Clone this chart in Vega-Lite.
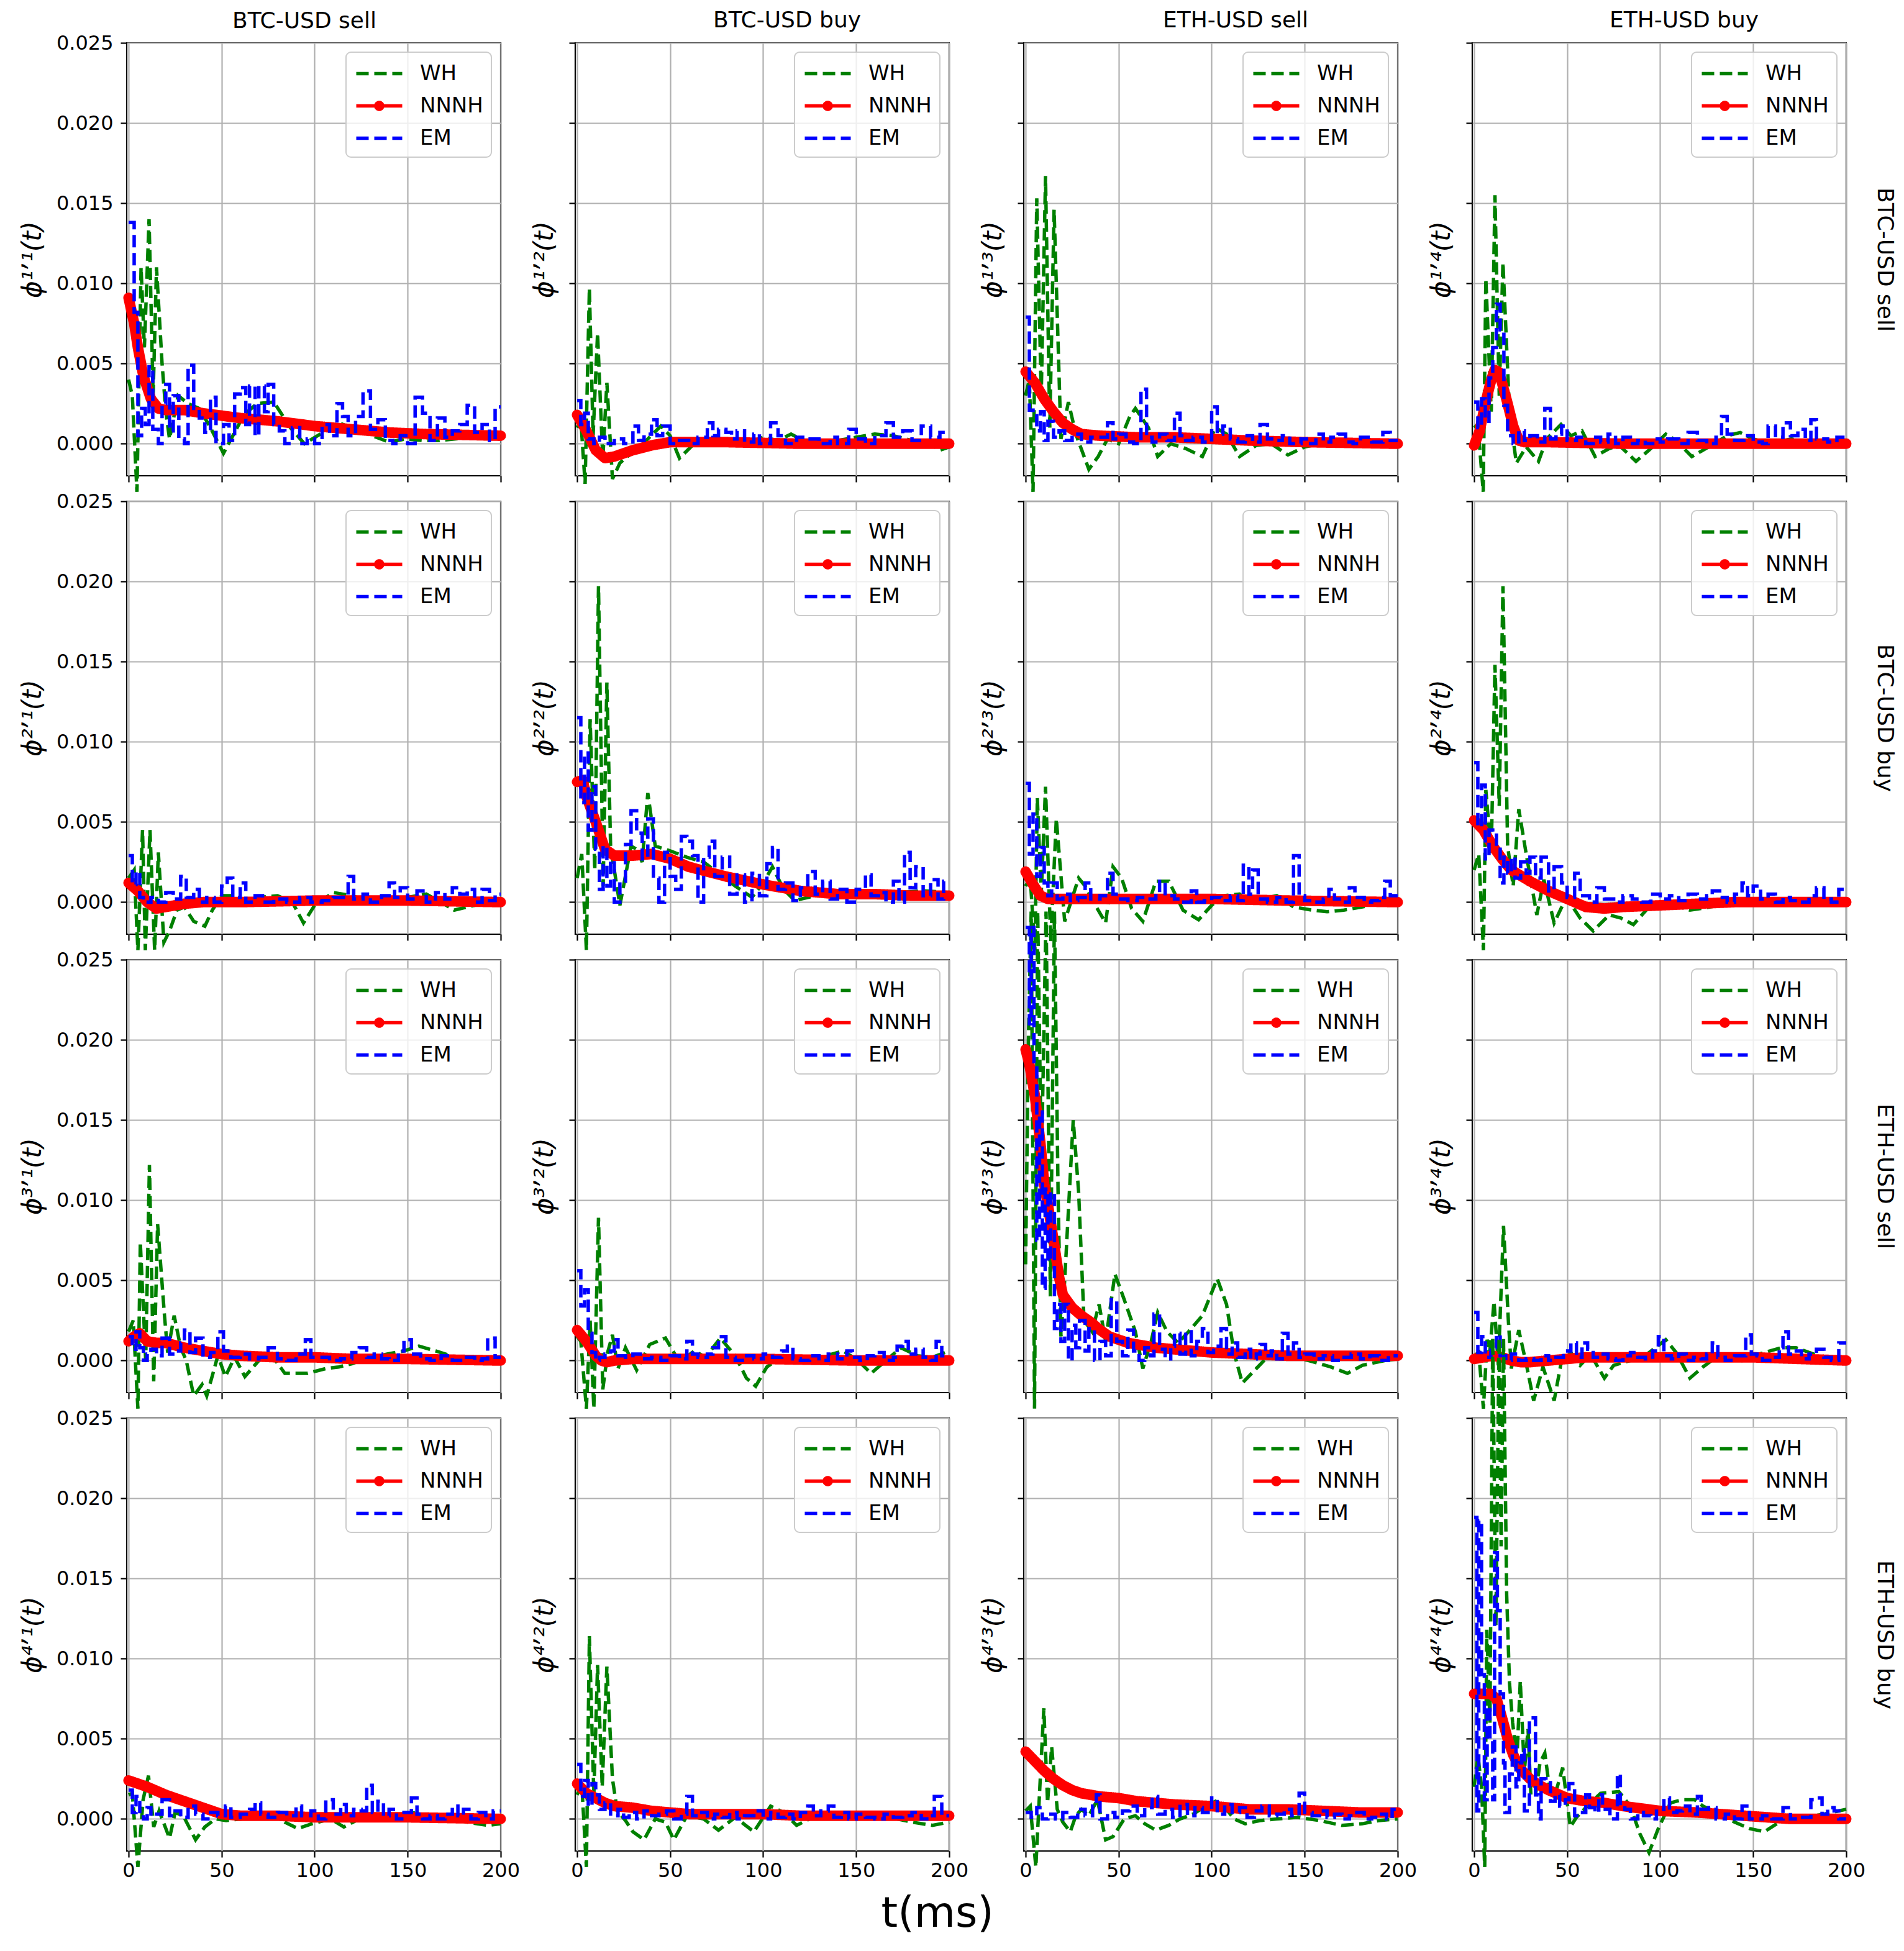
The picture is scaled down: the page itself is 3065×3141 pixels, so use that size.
{
"$schema":"https://vega.github.io/schema/vega-lite/v6.json",
"padding":{"left":30,"top":13,"right":10,"bottom":10},
"background":"white",
"title":{"text":"t(ms)","orient":"bottom","anchor":"middle","fontSize":68,"offset":20,"dx":-32},
"datasets":{
"a11":[{"t":0,"v":0.004},{"t":2,"v":0.003},{"t":4.5,"v":-0.003},{"t":6.7,"v":0.011},{"t":8.5,"v":0.006},{"t":11,"v":0.014},{"t":13.2,"v":0.003},{"t":15,"v":0.011},{"t":18,"v":0.005},{"t":20,"v":0.002},{"t":22,"v":0.0003},{"t":26.6,"v":0.003},{"t":32,"v":0.0025},{"t":38,"v":0.0022},{"t":44,"v":0.001},{"t":51,"v":-0.0006},{"t":56.5,"v":0.0006},{"t":62,"v":0.0018},{"t":69,"v":0.0025},{"t":78,"v":0.0026},{"t":87,"v":0.001},{"t":94.5,"v":0},{"t":103,"v":0.0006},{"t":113,"v":0.0013},{"t":122,"v":0.0009},{"t":131,"v":0.0005},{"t":140,"v":0.0001},{"t":149,"v":0.0003},{"t":158,"v":0.0002},{"t":167,"v":0.0002},{"t":176,"v":0.0003},{"t":185,"v":0.0004},{"t":193,"v":0.0005},{"t":200,"v":0.0006}],
"a12":[{"t":0,"v":0.001},{"t":2,"v":0.0015},{"t":4.3,"v":-0.0025},{"t":6.6,"v":0.0097},{"t":8.6,"v":0.0005},{"t":11,"v":0.0069},{"t":13.8,"v":-0.001},{"t":16,"v":0.0038},{"t":19,"v":-0.0022},{"t":23,"v":-0.0012},{"t":27,"v":-0.0008},{"t":31,"v":-0.0005},{"t":38,"v":0.0003},{"t":45,"v":0.0011},{"t":50,"v":0.0005},{"t":55,"v":-0.0009},{"t":62,"v":-0.0001},{"t":70,"v":0.0003},{"t":80,"v":0.0001},{"t":90,"v":0},{"t":100,"v":0.0004},{"t":108,"v":0.0002},{"t":115,"v":0.0006},{"t":125,"v":0},{"t":140,"v":0.0002},{"t":150,"v":0.0004},{"t":160,"v":0.0006},{"t":170,"v":0.0005},{"t":180,"v":0.0002},{"t":190,"v":0},{"t":195,"v":-0.0004},{"t":200,"v":-0.0002}],
"a13":[{"t":0,"v":0.003},{"t":2,"v":0.004},{"t":4,"v":-0.003},{"t":6,"v":0.0153},{"t":8.4,"v":0.003},{"t":10.7,"v":0.0167},{"t":13,"v":0.001},{"t":15.3,"v":0.0146},{"t":19,"v":0.0003},{"t":23,"v":0.0026},{"t":27,"v":0.0006},{"t":34,"v":-0.0016},{"t":39,"v":-0.0008},{"t":44,"v":0.0003},{"t":50,"v":0},{"t":56,"v":0.0017},{"t":59,"v":0.0022},{"t":66,"v":0.001},{"t":71,"v":-0.0008},{"t":78,"v":0},{"t":86,"v":-0.0003},{"t":95,"v":-0.0008},{"t":102,"v":0.001},{"t":108,"v":0.0006},{"t":115,"v":-0.0008},{"t":124,"v":-0.0001},{"t":132,"v":0},{"t":141,"v":-0.0007},{"t":150,"v":-0.0002},{"t":158,"v":0},{"t":170,"v":0.0002},{"t":184,"v":0.0001},{"t":200,"v":0}],
"a14":[{"t":0,"v":0.001},{"t":2,"v":0.0012},{"t":4.9,"v":-0.003},{"t":6.3,"v":0.0103},{"t":9.2,"v":0.002},{"t":11.2,"v":0.0155},{"t":13.5,"v":0.003},{"t":15.5,"v":0.0113},{"t":19,"v":0.002},{"t":22.7,"v":-0.0012},{"t":28,"v":-0.0002},{"t":34.6,"v":-0.0011},{"t":39,"v":0.0003},{"t":46.7,"v":0.0012},{"t":52,"v":0.0005},{"t":58,"v":0.0008},{"t":65,"v":-0.0008},{"t":72.6,"v":-0.0003},{"t":78,"v":-0.0001},{"t":87,"v":-0.0011},{"t":94,"v":-0.0004},{"t":103,"v":0.0006},{"t":108.6,"v":0.0002},{"t":117,"v":-0.0008},{"t":126,"v":-0.0002},{"t":136,"v":0.0005},{"t":143,"v":0.0007},{"t":150,"v":0.0003},{"t":159,"v":0},{"t":170.6,"v":0.0003},{"t":182,"v":0},{"t":200,"v":0.0001}],
"a21":[{"t":0,"v":0.0015},{"t":3,"v":0.002},{"t":5,"v":-0.003},{"t":7.5,"v":0.0045},{"t":9,"v":-0.003},{"t":11.5,"v":0.0045},{"t":14,"v":-0.003},{"t":16,"v":0.0031},{"t":19,"v":-0.0025},{"t":22,"v":-0.0018},{"t":26,"v":-0.0005},{"t":30,"v":-0.0003},{"t":35,"v":-0.0012},{"t":41,"v":-0.0015},{"t":45,"v":-0.0005},{"t":50,"v":0.0004},{"t":55,"v":0.0004},{"t":60,"v":0},{"t":70,"v":0.0003},{"t":80,"v":0.0004},{"t":88,"v":0},{"t":94,"v":-0.0013},{"t":100,"v":-0.0002},{"t":110,"v":0.0006},{"t":120,"v":0.0004},{"t":130,"v":0},{"t":140,"v":0},{"t":150,"v":0.0003},{"t":160,"v":0.0005},{"t":168,"v":0},{"t":175,"v":-0.0005},{"t":182,"v":-0.0003},{"t":190,"v":-0.0001},{"t":200,"v":0}],
"a22":[{"t":0,"v":0.0015},{"t":2.5,"v":0.003},{"t":5,"v":-0.003},{"t":7,"v":0.0114},{"t":9.5,"v":0.002},{"t":11.5,"v":0.0197},{"t":14,"v":0.001},{"t":16,"v":0.0137},{"t":18,"v":0.0035},{"t":20,"v":0.002},{"t":23,"v":-0.0002},{"t":29,"v":0.0035},{"t":32,"v":0.0033},{"t":35,"v":0.0025},{"t":38,"v":0.0068},{"t":42,"v":0.0035},{"t":50,"v":0.0032},{"t":59,"v":0.0028},{"t":68,"v":0.0025},{"t":76,"v":0.0018},{"t":85,"v":0.001},{"t":94,"v":0.0003},{"t":100,"v":0.0012},{"t":105,"v":0.0022},{"t":111,"v":0.0008},{"t":117,"v":0.0001},{"t":128,"v":0.0004},{"t":140,"v":0.0006},{"t":151,"v":0.0005},{"t":163,"v":0.0005},{"t":174,"v":0.0006},{"t":186,"v":0.0007},{"t":200,"v":0.0006}],
"a23":[{"t":0,"v":0.001},{"t":2.5,"v":0.0015},{"t":5,"v":-0.003},{"t":6.3,"v":0.0065},{"t":8.4,"v":0.0005},{"t":10.7,"v":0.0072},{"t":13.5,"v":-0.0025},{"t":16.5,"v":0.0052},{"t":21,"v":-0.0012},{"t":28.5,"v":0.0015},{"t":32,"v":0.001},{"t":37,"v":-0.0001},{"t":43,"v":-0.0013},{"t":47,"v":0.0022},{"t":51.6,"v":0.0015},{"t":57,"v":-0.0004},{"t":63,"v":-0.0012},{"t":70,"v":0.0013},{"t":77,"v":0.0013},{"t":84.6,"v":-0.0005},{"t":93,"v":-0.0011},{"t":100,"v":-0.0002},{"t":106,"v":0.0004},{"t":115,"v":0.0005},{"t":120,"v":0},{"t":135,"v":0.0004},{"t":144,"v":-0.0003},{"t":154,"v":-0.0005},{"t":162,"v":-0.0006},{"t":171,"v":-0.0005},{"t":181,"v":-0.0003},{"t":193,"v":0},{"t":200,"v":0.0003}],
"a24":[{"t":0,"v":0.002},{"t":2.5,"v":0.003},{"t":5,"v":-0.003},{"t":6.3,"v":0.007},{"t":9.2,"v":0.003},{"t":11.2,"v":0.0148},{"t":13.5,"v":0.006},{"t":15.5,"v":0.0197},{"t":18,"v":0.0035},{"t":21,"v":0.001},{"t":24,"v":0.0058},{"t":28,"v":0.003},{"t":33.7,"v":-0.0008},{"t":37.5,"v":0.0014},{"t":43,"v":-0.0013},{"t":49.6,"v":0.0003},{"t":57,"v":-0.001},{"t":64,"v":-0.0018},{"t":72.6,"v":-0.0008},{"t":79,"v":-0.001},{"t":85.6,"v":-0.0014},{"t":94,"v":-0.0003},{"t":101,"v":0},{"t":108,"v":-0.0002},{"t":116,"v":-0.0005},{"t":127,"v":-0.0003},{"t":139,"v":0},{"t":150,"v":0.0002},{"t":165,"v":0.0001},{"t":182,"v":0.0002},{"t":200,"v":0.0001}],
"a31":[{"t":0,"v":0.0018},{"t":2.5,"v":0.0025},{"t":5,"v":-0.003},{"t":6.3,"v":0.0074},{"t":9.2,"v":0},{"t":11.2,"v":0.0122},{"t":13.5,"v":-0.0013},{"t":15.6,"v":0.0085},{"t":19.3,"v":0.0028},{"t":21,"v":0.0005},{"t":24.5,"v":0.0028},{"t":28,"v":0.0008},{"t":31,"v":0},{"t":35,"v":-0.0022},{"t":39.5,"v":-0.0015},{"t":42,"v":-0.0022},{"t":48,"v":0.0003},{"t":52,"v":-0.001},{"t":57,"v":0.0002},{"t":62.5,"v":-0.001},{"t":70,"v":0},{"t":77,"v":0.0003},{"t":84,"v":-0.0008},{"t":96,"v":-0.0008},{"t":106,"v":-0.0005},{"t":113,"v":-0.0004},{"t":120,"v":-0.0002},{"t":127,"v":0.0001},{"t":139,"v":0.0004},{"t":148,"v":0.0006},{"t":156,"v":0.0009},{"t":165,"v":0.0006},{"t":173,"v":0.0003},{"t":185,"v":0},{"t":200,"v":0}],
"a32":[{"t":0,"v":0.0015},{"t":2,"v":0.0012},{"t":5,"v":-0.003},{"t":7,"v":0.0025},{"t":9,"v":-0.003},{"t":11.5,"v":0.0089},{"t":13.8,"v":-0.0018},{"t":16.4,"v":0.0005},{"t":19,"v":0.0016},{"t":22,"v":-0.0005},{"t":26,"v":0.0008},{"t":32,"v":-0.0006},{"t":39,"v":0.001},{"t":47.5,"v":0.0014},{"t":55,"v":-0.0001},{"t":63,"v":0.0006},{"t":69,"v":0.0002},{"t":77,"v":0.0014},{"t":85,"v":0.0003},{"t":91,"v":-0.0011},{"t":96,"v":-0.0016},{"t":102,"v":-0.0004},{"t":111,"v":0.0003},{"t":122,"v":0},{"t":131,"v":0.0002},{"t":143,"v":0.0006},{"t":151,"v":0},{"t":158,"v":-0.0008},{"t":166,"v":0},{"t":174,"v":0.0008},{"t":183,"v":0.0003},{"t":191,"v":0.0002},{"t":200,"v":0.0006}],
"a33":[{"t":0,"v":0.006},{"t":1.5,"v":0.02},{"t":3,"v":0.028},{"t":4.8,"v":-0.003},{"t":6.5,"v":0.028},{"t":8.5,"v":0.012},{"t":11,"v":0.028},{"t":13.3,"v":0.004},{"t":15.5,"v":0.028},{"t":17.5,"v":0.01},{"t":19,"v":0.0015},{"t":21,"v":0.005},{"t":25.6,"v":0.015},{"t":28.5,"v":0.0105},{"t":31.4,"v":0.0025},{"t":35.7,"v":0.0018},{"t":39.5,"v":0.0035},{"t":43,"v":0.0012},{"t":48,"v":0.0054},{"t":53,"v":0.0038},{"t":59,"v":0.0018},{"t":63,"v":-0.0005},{"t":67.5,"v":0.0012},{"t":71,"v":0.003},{"t":76,"v":0.0018},{"t":82,"v":0.0011},{"t":87.6,"v":0.0018},{"t":95,"v":0.0028},{"t":103,"v":0.0051},{"t":108,"v":0.0035},{"t":112,"v":0.0005},{"t":116.5,"v":-0.0014},{"t":124,"v":-0.0005},{"t":129,"v":0.0001},{"t":141,"v":0.0003},{"t":152,"v":0},{"t":164,"v":-0.0004},{"t":173,"v":-0.0008},{"t":181,"v":-0.0003},{"t":193,"v":0},{"t":200,"v":0.0001}],
"a34":[{"t":0,"v":0.0003},{"t":2.5,"v":0.0005},{"t":5,"v":-0.003},{"t":7,"v":0.0013},{"t":8.4,"v":0.0005},{"t":10.7,"v":0.0037},{"t":13,"v":-0.0003},{"t":15.8,"v":0.0084},{"t":18.4,"v":0.0025},{"t":20,"v":-0.0005},{"t":24,"v":0.0019},{"t":28,"v":-0.0002},{"t":32,"v":-0.0025},{"t":37,"v":-0.0004},{"t":43,"v":-0.0025},{"t":47,"v":0},{"t":52,"v":0.0005},{"t":57,"v":-0.0003},{"t":62.5,"v":0.0004},{"t":70,"v":-0.0011},{"t":75,"v":-0.0003},{"t":84,"v":0},{"t":93,"v":0.0004},{"t":103,"v":0.0013},{"t":108.6,"v":0.0005},{"t":116,"v":-0.0011},{"t":123,"v":-0.0004},{"t":130,"v":0.0002},{"t":140,"v":0.0003},{"t":144,"v":0},{"t":153,"v":0.0004},{"t":165,"v":0.0008},{"t":173,"v":0.0008},{"t":185,"v":0.0003},{"t":193,"v":0},{"t":200,"v":0}],
"a41":[{"t":0,"v":0.0015},{"t":2,"v":0.0016},{"t":5,"v":-0.003},{"t":7.8,"v":0.0012},{"t":10.7,"v":0.0027},{"t":13.5,"v":-0.0005},{"t":16.4,"v":0.0005},{"t":22,"v":-0.0012},{"t":25,"v":0.0004},{"t":29.4,"v":0.0002},{"t":36,"v":-0.0013},{"t":41,"v":-0.0005},{"t":46.7,"v":0},{"t":52.4,"v":-0.0001},{"t":61,"v":0},{"t":69.7,"v":0.0004},{"t":78,"v":0.0003},{"t":84,"v":-0.0002},{"t":91,"v":-0.0006},{"t":98.6,"v":-0.0003},{"t":108.6,"v":0},{"t":115.7,"v":-0.0005},{"t":124,"v":0},{"t":133,"v":0.0003},{"t":141.8,"v":0.0002},{"t":152,"v":0.0004},{"t":162,"v":0.0002},{"t":173,"v":0},{"t":182,"v":-0.0002},{"t":193,"v":-0.0004},{"t":200,"v":-0.0003}],
"a42":[{"t":0,"v":0.0015},{"t":2.5,"v":0.0022},{"t":5,"v":-0.003},{"t":6.6,"v":0.0114},{"t":9,"v":0.0015},{"t":11,"v":0.0096},{"t":13.5,"v":0.002},{"t":16,"v":0.0095},{"t":19,"v":0.0025},{"t":21.6,"v":0.0005},{"t":26,"v":-0.0001},{"t":30,"v":-0.0008},{"t":36,"v":-0.0013},{"t":42,"v":0},{"t":47.5,"v":-0.0002},{"t":52,"v":-0.0013},{"t":59,"v":0.0002},{"t":68,"v":0},{"t":76,"v":-0.0007},{"t":85,"v":0.0001},{"t":95,"v":-0.0008},{"t":104,"v":0.0008},{"t":111,"v":0.0004},{"t":118,"v":-0.0004},{"t":125,"v":0},{"t":134,"v":0.0003},{"t":143,"v":0.0002},{"t":151,"v":0.0002},{"t":160,"v":0},{"t":168,"v":0.0001},{"t":180,"v":-0.0002},{"t":191,"v":-0.0004},{"t":200,"v":-0.0002}],
"a43":[{"t":0,"v":0.0005},{"t":2.5,"v":0.0008},{"t":5.5,"v":-0.003},{"t":8,"v":0.0028},{"t":9.8,"v":0.0069},{"t":11.8,"v":0.001},{"t":14,"v":0.0045},{"t":17,"v":0.0006},{"t":20,"v":-0.0002},{"t":24,"v":-0.0008},{"t":27,"v":0.0002},{"t":30,"v":0.0006},{"t":34,"v":0.0002},{"t":38.6,"v":0.0012},{"t":43,"v":-0.0013},{"t":47,"v":-0.0011},{"t":53,"v":0},{"t":59,"v":0.0002},{"t":64,"v":-0.0003},{"t":70,"v":-0.0007},{"t":77,"v":-0.0004},{"t":83,"v":0},{"t":90,"v":0.0003},{"t":97,"v":0.0008},{"t":102,"v":0.0011},{"t":108,"v":0.0006},{"t":112,"v":0},{"t":118,"v":-0.0003},{"t":126,"v":-0.0001},{"t":135,"v":0},{"t":146,"v":0.0001},{"t":158,"v":-0.0001},{"t":170,"v":-0.0004},{"t":181,"v":-0.0003},{"t":190,"v":-0.0001},{"t":200,"v":0}],
"a44":[{"t":0,"v":0.002},{"t":2,"v":0.004},{"t":4,"v":0.002},{"t":5.7,"v":-0.003},{"t":6.8,"v":0.0118},{"t":8.5,"v":0.006},{"t":10,"v":0.03},{"t":11.7,"v":0.012},{"t":13.4,"v":0.03},{"t":14.5,"v":0.017},{"t":15.8,"v":0.03},{"t":17.5,"v":0.014},{"t":19,"v":0.0085},{"t":20.7,"v":0.006},{"t":23,"v":0.0037},{"t":24.8,"v":0.0086},{"t":27,"v":0.003},{"t":29,"v":0.0056},{"t":30.5,"v":0.0015},{"t":33,"v":0.0015},{"t":35.4,"v":0.0035},{"t":38,"v":0.0041},{"t":41,"v":0.0015},{"t":43.5,"v":0.0015},{"t":47.6,"v":0.0032},{"t":51.7,"v":-0.0005},{"t":55,"v":0.0001},{"t":60,"v":0.0007},{"t":68,"v":0.0016},{"t":77.8,"v":0.0017},{"t":84,"v":0.0008},{"t":89,"v":-0.0009},{"t":94,"v":-0.0021},{"t":99,"v":-0.0006},{"t":105.5,"v":0.001},{"t":112,"v":0.0012},{"t":118.5,"v":0.0012},{"t":123,"v":0.0008},{"t":130,"v":0.0004},{"t":140,"v":-0.0002},{"t":148,"v":-0.0006},{"t":156,"v":-0.0008},{"t":164,"v":-0.0002},{"t":172,"v":0},{"t":188,"v":0.0003},{"t":200,"v":0.0006}],
"n11":[{"t":0,"v":0.0091},{"t":3,"v":0.0075},{"t":5,"v":0.006},{"t":8,"v":0.0042},{"t":12,"v":0.0028},{"t":16,"v":0.0022},{"t":20,"v":0.0021},{"t":30,"v":0.0021},{"t":40,"v":0.0019},{"t":60,"v":0.0016},{"t":80,"v":0.0014},{"t":100,"v":0.0011},{"t":120,"v":0.0009},{"t":140,"v":0.0007},{"t":160,"v":0.0006},{"t":200,"v":0.0005}],
"n12":[{"t":0,"v":0.0018},{"t":5,"v":0.0008},{"t":10,"v":-0.0004},{"t":15,"v":-0.0009},{"t":20,"v":-0.0008},{"t":30,"v":-0.0004},{"t":40,"v":-0.0001},{"t":50,"v":0.0001},{"t":80,"v":0.0001},{"t":120,"v":0},{"t":160,"v":0},{"t":200,"v":0}],
"n13":[{"t":0,"v":0.0045},{"t":5,"v":0.0038},{"t":10,"v":0.0028},{"t":15,"v":0.002},{"t":20,"v":0.0013},{"t":25,"v":0.0009},{"t":30,"v":0.0006},{"t":40,"v":0.0005},{"t":60,"v":0.0004},{"t":80,"v":0.0004},{"t":100,"v":0.0003},{"t":120,"v":0.0002},{"t":150,"v":0.0001},{"t":200,"v":0}],
"n14":[{"t":0,"v":-0.0001},{"t":3,"v":0.0008},{"t":6,"v":0.0025},{"t":9,"v":0.0039},{"t":11,"v":0.0046},{"t":13,"v":0.0045},{"t":15,"v":0.0038},{"t":18,"v":0.0025},{"t":21,"v":0.0011},{"t":24,"v":0.0002},{"t":27,"v":0.0001},{"t":40,"v":0.0001},{"t":80,"v":0},{"t":200,"v":0}],
"n21":[{"t":0,"v":0.0012},{"t":5,"v":0.0007},{"t":10,"v":0},{"t":15,"v":-0.0004},{"t":20,"v":-0.0003},{"t":30,"v":-0.0001},{"t":40,"v":0},{"t":60,"v":0},{"t":100,"v":0.0001},{"t":150,"v":0.0001},{"t":200,"v":0}],
"n22":[{"t":0,"v":0.0075},{"t":3,"v":0.0076},{"t":5,"v":0.0066},{"t":10,"v":0.005},{"t":15,"v":0.0033},{"t":20,"v":0.0029},{"t":30,"v":0.0029},{"t":40,"v":0.003},{"t":50,"v":0.0027},{"t":60,"v":0.0022},{"t":80,"v":0.0016},{"t":100,"v":0.0011},{"t":120,"v":0.0007},{"t":140,"v":0.0005},{"t":160,"v":0.0005},{"t":180,"v":0.0004},{"t":200,"v":0.0004}],
"n23":[{"t":0,"v":0.0019},{"t":4,"v":0.0011},{"t":8,"v":0.0004},{"t":12,"v":0.0002},{"t":40,"v":0.0002},{"t":100,"v":0.0002},{"t":140,"v":0.0001},{"t":200,"v":0}],
"n24":[{"t":0,"v":0.0051},{"t":5,"v":0.0045},{"t":10,"v":0.0035},{"t":15,"v":0.0027},{"t":20,"v":0.002},{"t":30,"v":0.0013},{"t":40,"v":0.0007},{"t":50,"v":0.0002},{"t":60,"v":-0.0003},{"t":70,"v":-0.0004},{"t":80,"v":-0.0003},{"t":100,"v":-0.0002},{"t":120,"v":-0.0001},{"t":140,"v":0},{"t":200,"v":0}],
"n31":[{"t":0,"v":0.0012},{"t":3,"v":0.0015},{"t":6,"v":0.0017},{"t":10,"v":0.0012},{"t":15,"v":0.0011},{"t":20,"v":0.0011},{"t":30,"v":0.0008},{"t":40,"v":0.0006},{"t":50,"v":0.0004},{"t":60,"v":0.0003},{"t":80,"v":0.0002},{"t":100,"v":0.0002},{"t":120,"v":0.0001},{"t":150,"v":0.0001},{"t":200,"v":0}],
"n32":[{"t":0,"v":0.0019},{"t":5,"v":0.0012},{"t":10,"v":0.0003},{"t":13,"v":0},{"t":16,"v":-0.0001},{"t":20,"v":0},{"t":30,"v":0.0001},{"t":100,"v":0.0001},{"t":150,"v":0},{"t":200,"v":0}],
"n33":[{"t":0,"v":0.0194},{"t":2,"v":0.0185},{"t":5,"v":0.0165},{"t":8,"v":0.0135},{"t":10,"v":0.011},{"t":12,"v":0.0097},{"t":15,"v":0.0075},{"t":18,"v":0.0052},{"t":20,"v":0.0041},{"t":25,"v":0.0033},{"t":30,"v":0.0028},{"t":35,"v":0.0024},{"t":40,"v":0.0019},{"t":45,"v":0.0015},{"t":50,"v":0.0013},{"t":55,"v":0.0011},{"t":60,"v":0.001},{"t":70,"v":0.0008},{"t":80,"v":0.0007},{"t":100,"v":0.0005},{"t":120,"v":0.0004},{"t":140,"v":0.0003},{"t":200,"v":0.0003}],
"n34":[{"t":0,"v":0.0001},{"t":5,"v":0.0002},{"t":10,"v":0.0003},{"t":15,"v":0.0002},{"t":20,"v":0},{"t":25,"v":-0.0001},{"t":30,"v":-0.0001},{"t":40,"v":0},{"t":60,"v":0.0002},{"t":100,"v":0.0002},{"t":150,"v":0.0002},{"t":200,"v":0}],
"n41":[{"t":0,"v":0.0024},{"t":10,"v":0.002},{"t":20,"v":0.0015},{"t":30,"v":0.0011},{"t":40,"v":0.0007},{"t":50,"v":0.0003},{"t":60,"v":0.0002},{"t":80,"v":0.0002},{"t":100,"v":0.0001},{"t":150,"v":0.0001},{"t":200,"v":0}],
"n42":[{"t":0,"v":0.0022},{"t":5,"v":0.0016},{"t":10,"v":0.0013},{"t":15,"v":0.001},{"t":20,"v":0.0008},{"t":30,"v":0.0007},{"t":40,"v":0.0005},{"t":50,"v":0.0004},{"t":60,"v":0.0003},{"t":100,"v":0.0003},{"t":120,"v":0.0002},{"t":200,"v":0.0002}],
"n43":[{"t":0,"v":0.0042},{"t":5,"v":0.0036},{"t":10,"v":0.003},{"t":15,"v":0.0025},{"t":20,"v":0.0021},{"t":25,"v":0.0018},{"t":30,"v":0.0016},{"t":40,"v":0.0014},{"t":50,"v":0.0013},{"t":60,"v":0.0011},{"t":70,"v":0.001},{"t":80,"v":0.0009},{"t":100,"v":0.0008},{"t":120,"v":0.0006},{"t":140,"v":0.0006},{"t":160,"v":0.0005},{"t":180,"v":0.0004},{"t":200,"v":0.0004}],
"n44":[{"t":0,"v":0.0078},{"t":5,"v":0.0078},{"t":9,"v":0.0078},{"t":12,"v":0.0075},{"t":15,"v":0.0063},{"t":18,"v":0.005},{"t":21,"v":0.004},{"t":25,"v":0.0031},{"t":30,"v":0.0025},{"t":35,"v":0.0021},{"t":40,"v":0.0018},{"t":50,"v":0.0013},{"t":60,"v":0.0011},{"t":70,"v":0.001},{"t":80,"v":0.0008},{"t":100,"v":0.0005},{"t":120,"v":0.0004},{"t":145,"v":0.0002},{"t":170,"v":0},{"t":200,"v":0}],
"e11":[{"t":0,"v":0.0138},{"t":3,"v":0.0082},{"t":5,"v":0.0005},{"t":7,"v":0.0022},{"t":9,"v":0.0012},{"t":11,"v":0.0048},{"t":13,"v":0.0009},{"t":16,"v":0},{"t":18,"v":0.0025},{"t":20,"v":0.0037},{"t":22,"v":0.0008},{"t":24,"v":0.003},{"t":27,"v":0.0003},{"t":30,"v":0},{"t":32,"v":0.0049},{"t":35,"v":0.0022},{"t":38,"v":0.0016},{"t":41,"v":0.0007},{"t":44,"v":0.0029},{"t":47,"v":0},{"t":51,"v":0.0012},{"t":54,"v":0.0002},{"t":57,"v":0.0031},{"t":60,"v":0.0035},{"t":63,"v":0.0012},{"t":65,"v":0.0036},{"t":68,"v":0.0005},{"t":70,"v":0.0036},{"t":73,"v":0.002},{"t":75,"v":0.0037},{"t":78,"v":0.0012},{"t":81,"v":0.0008},{"t":84,"v":0},{"t":88,"v":0.001},{"t":92,"v":0},{"t":96,"v":0.0003},{"t":100,"v":0},{"t":104,"v":0.0012},{"t":108,"v":0.0005},{"t":112,"v":0.0025},{"t":115,"v":0.0017},{"t":118,"v":0.0005},{"t":122,"v":0.0017},{"t":126,"v":0.0033},{"t":130,"v":0.0009},{"t":134,"v":0.0015},{"t":138,"v":0.0002},{"t":142,"v":0},{"t":146,"v":0.0005},{"t":150,"v":0},{"t":154,"v":0.0029},{"t":158,"v":0.0019},{"t":162,"v":0.0002},{"t":166,"v":0.0016},{"t":170,"v":0.0004},{"t":174,"v":0.0008},{"t":178,"v":0.0012},{"t":182,"v":0.0024},{"t":186,"v":0.0007},{"t":190,"v":0.0012},{"t":194,"v":0.0002},{"t":197,"v":0.0023},{"t":200,"v":0.0023}],
"e12":[{"t":0,"v":0.0027},{"t":2,"v":0.0012},{"t":4,"v":0.0019},{"t":6,"v":0.0003},{"t":9,"v":0},{"t":12,"v":0.0004},{"t":15,"v":0},{"t":20,"v":0.0003},{"t":25,"v":0},{"t":30,"v":0.0011},{"t":33,"v":0.0002},{"t":36,"v":0.0006},{"t":40,"v":0.0015},{"t":43,"v":0.0005},{"t":46,"v":0.0011},{"t":50,"v":0},{"t":55,"v":0.0002},{"t":60,"v":0},{"t":65,"v":0.0004},{"t":70,"v":0.0013},{"t":73,"v":0.0005},{"t":76,"v":0.0009},{"t":80,"v":0.0007},{"t":83,"v":0.0003},{"t":86,"v":0.0008},{"t":90,"v":0.0001},{"t":95,"v":0.0006},{"t":98,"v":0},{"t":104,"v":0.0013},{"t":108,"v":0.0005},{"t":112,"v":0},{"t":118,"v":0.0004},{"t":124,"v":0.0003},{"t":130,"v":0},{"t":136,"v":0.0004},{"t":140,"v":0},{"t":146,"v":0.0009},{"t":150,"v":0.0003},{"t":155,"v":0},{"t":160,"v":0.0005},{"t":166,"v":0.0013},{"t":170,"v":0.0004},{"t":175,"v":0.0008},{"t":180,"v":0.0002},{"t":185,"v":0.0011},{"t":190,"v":0.0004},{"t":195,"v":0.0007},{"t":200,"v":0.0007}],
"e13":[{"t":0,"v":0.0079},{"t":2,"v":0.0021},{"t":4,"v":0.0019},{"t":6,"v":0.0008},{"t":8,"v":0.002},{"t":10,"v":0.0002},{"t":12,"v":0.0014},{"t":15,"v":0.0004},{"t":18,"v":0.0008},{"t":21,"v":0.0002},{"t":25,"v":0.0006},{"t":30,"v":0.0001},{"t":35,"v":0.0004},{"t":40,"v":0.0004},{"t":44,"v":0.0013},{"t":47,"v":0.0003},{"t":50,"v":0.0006},{"t":54,"v":0.0001},{"t":58,"v":0},{"t":62,"v":0.0034},{"t":65,"v":0.0004},{"t":68,"v":0.0001},{"t":72,"v":0.0006},{"t":76,"v":0.0002},{"t":80,"v":0.0019},{"t":83,"v":0.0005},{"t":86,"v":0.0002},{"t":90,"v":0.0004},{"t":95,"v":0.0001},{"t":100,"v":0.0023},{"t":103,"v":0.0006},{"t":106,"v":0.0011},{"t":110,"v":0.0003},{"t":114,"v":0.0001},{"t":118,"v":0.0005},{"t":122,"v":0.0001},{"t":126,"v":0.0012},{"t":130,"v":0.0003},{"t":134,"v":0.0002},{"t":138,"v":0.0005},{"t":142,"v":0},{"t":148,"v":0.0003},{"t":152,"v":0},{"t":156,"v":0.0006},{"t":160,"v":0.0001},{"t":164,"v":0.0004},{"t":168,"v":0.0006},{"t":172,"v":0.0001},{"t":176,"v":0},{"t":180,"v":0.0004},{"t":186,"v":0.0001},{"t":192,"v":0.0007},{"t":196,"v":0.0002},{"t":200,"v":0.0002}],
"e14":[{"t":0,"v":0.0026},{"t":2,"v":0.001},{"t":4,"v":0.0028},{"t":6,"v":0.0014},{"t":8,"v":0.0041},{"t":10,"v":0.006},{"t":12,"v":0.0087},{"t":14,"v":0.0071},{"t":16,"v":0.0024},{"t":18,"v":0.0005},{"t":21,"v":0},{"t":24,"v":0.0008},{"t":27,"v":0.0002},{"t":30,"v":0.0005},{"t":34,"v":0.0001},{"t":38,"v":0.0022},{"t":41,"v":0.0003},{"t":44,"v":0.0006},{"t":47,"v":0.0011},{"t":50,"v":0.0002},{"t":55,"v":0.0004},{"t":60,"v":0},{"t":64,"v":0.0004},{"t":68,"v":0.0001},{"t":72,"v":0.0006},{"t":76,"v":0},{"t":80,"v":0.0004},{"t":84,"v":0},{"t":88,"v":0.0002},{"t":92,"v":0},{"t":96,"v":0.0003},{"t":100,"v":0.0001},{"t":104,"v":0.0003},{"t":110,"v":0},{"t":115,"v":0.0007},{"t":120,"v":0.0002},{"t":125,"v":0},{"t":130,"v":0.0004},{"t":133,"v":0.0017},{"t":136,"v":0.0006},{"t":140,"v":0.0002},{"t":145,"v":0.0005},{"t":150,"v":0.0001},{"t":155,"v":0},{"t":158,"v":0.0011},{"t":162,"v":0.0004},{"t":166,"v":0.0013},{"t":170,"v":0.0005},{"t":174,"v":0.0009},{"t":178,"v":0.0002},{"t":181,"v":0.0015},{"t":184,"v":0.0003},{"t":190,"v":0.0001},{"t":195,"v":0.0004},{"t":200,"v":0.0004}],
"e21":[{"t":0,"v":0.0029},{"t":2,"v":0.0011},{"t":4,"v":0.0019},{"t":6,"v":0.0003},{"t":8,"v":0},{"t":12,"v":0.0003},{"t":16,"v":0},{"t":20,"v":0.0006},{"t":24,"v":0.0002},{"t":28,"v":0.0016},{"t":31,"v":0.0003},{"t":35,"v":0.0008},{"t":38,"v":0},{"t":42,"v":0.0003},{"t":46,"v":0},{"t":50,"v":0.001},{"t":53,"v":0.0015},{"t":56,"v":0.0003},{"t":60,"v":0.0012},{"t":63,"v":0},{"t":68,"v":0.0004},{"t":72,"v":0},{"t":78,"v":0.0002},{"t":85,"v":0},{"t":92,"v":0.0003},{"t":98,"v":0},{"t":104,"v":0.0001},{"t":110,"v":0.0003},{"t":118,"v":0.0016},{"t":121,"v":0.0002},{"t":126,"v":0.0005},{"t":130,"v":0},{"t":136,"v":0.0004},{"t":140,"v":0.0012},{"t":143,"v":0.0003},{"t":146,"v":0.0009},{"t":150,"v":0.0002},{"t":155,"v":0.0007},{"t":160,"v":0},{"t":165,"v":0.0006},{"t":170,"v":0.0002},{"t":174,"v":0.0009},{"t":178,"v":0.0005},{"t":182,"v":0.0008},{"t":186,"v":0},{"t":190,"v":0.0008},{"t":194,"v":0.0001},{"t":197,"v":0.0005},{"t":200,"v":0.0005}],
"e22":[{"t":0,"v":0.0115},{"t":2,"v":0.0062},{"t":4,"v":0.0093},{"t":6,"v":0.0045},{"t":8,"v":0.0072},{"t":10,"v":0.0033},{"t":12,"v":0.0008},{"t":14,"v":0.0035},{"t":16,"v":0.001},{"t":18,"v":0.0026},{"t":20,"v":0},{"t":23,"v":0.0013},{"t":26,"v":0.0036},{"t":29,"v":0.0057},{"t":32,"v":0.0043},{"t":35,"v":0.0027},{"t":38,"v":0.0052},{"t":41,"v":0.0015},{"t":44,"v":0},{"t":47,"v":0.0031},{"t":50,"v":0.0016},{"t":53,"v":0.0008},{"t":56,"v":0.0041},{"t":59,"v":0.0038},{"t":62,"v":0.0029},{"t":65,"v":0},{"t":68,"v":0.0028},{"t":71,"v":0.0038},{"t":74,"v":0.0016},{"t":78,"v":0.0028},{"t":82,"v":0.0005},{"t":86,"v":0.0017},{"t":90,"v":0},{"t":94,"v":0.0018},{"t":98,"v":0.0004},{"t":102,"v":0.0024},{"t":105,"v":0.0034},{"t":108,"v":0.0008},{"t":112,"v":0.0012},{"t":116,"v":0.0001},{"t":120,"v":0.0009},{"t":124,"v":0.0019},{"t":128,"v":0.0005},{"t":132,"v":0.0013},{"t":136,"v":0.0002},{"t":140,"v":0.0008},{"t":145,"v":0},{"t":150,"v":0.0008},{"t":155,"v":0.0017},{"t":158,"v":0.0004},{"t":162,"v":0.0006},{"t":166,"v":0},{"t":170,"v":0.0013},{"t":173,"v":0},{"t":176,"v":0.0031},{"t":179,"v":0.0009},{"t":182,"v":0.0022},{"t":186,"v":0.0004},{"t":190,"v":0.0014},{"t":194,"v":0.0002},{"t":197,"v":0.0013},{"t":200,"v":0.0013}],
"e23":[{"t":0,"v":0.0074},{"t":2,"v":0.003},{"t":4,"v":0.0055},{"t":6,"v":0.0016},{"t":8,"v":0.0034},{"t":10,"v":0.0012},{"t":12,"v":0.0004},{"t":14,"v":0.0012},{"t":17,"v":0.0002},{"t":20,"v":0.0005},{"t":24,"v":0.0001},{"t":28,"v":0.0003},{"t":32,"v":0.0012},{"t":35,"v":0.0002},{"t":40,"v":0.0004},{"t":44,"v":0.0018},{"t":47,"v":0.0005},{"t":50,"v":0.0002},{"t":55,"v":0.0001},{"t":60,"v":0.0003},{"t":65,"v":0.0002},{"t":70,"v":0.0006},{"t":72,"v":0.0013},{"t":75,"v":0.0004},{"t":80,"v":0.0002},{"t":85,"v":0},{"t":89,"v":0.0007},{"t":92,"v":0},{"t":96,"v":0.0001},{"t":100,"v":0.0003},{"t":105,"v":0.0001},{"t":110,"v":0.0004},{"t":114,"v":0.0001},{"t":117,"v":0.0023},{"t":120,"v":0.0005},{"t":122,"v":0.002},{"t":125,"v":0.0002},{"t":130,"v":0},{"t":135,"v":0.0003},{"t":140,"v":0},{"t":144,"v":0.0029},{"t":147,"v":0.0004},{"t":150,"v":0.0001},{"t":155,"v":0},{"t":160,"v":0.0002},{"t":163,"v":0.0008},{"t":166,"v":0.0002},{"t":170,"v":0},{"t":174,"v":0.0009},{"t":177,"v":0.0003},{"t":182,"v":0},{"t":186,"v":0.0001},{"t":190,"v":0.0003},{"t":193,"v":0.0013},{"t":196,"v":0.0004},{"t":200,"v":0.0004}],
"e24":[{"t":0,"v":0.0087},{"t":2,"v":0.0047},{"t":4,"v":0.0073},{"t":6,"v":0.0027},{"t":8,"v":0.0045},{"t":10,"v":0.0044},{"t":12,"v":0.0033},{"t":14,"v":0.0012},{"t":16,"v":0.0028},{"t":18,"v":0.0018},{"t":20,"v":0.0028},{"t":22,"v":0.0015},{"t":25,"v":0.0025},{"t":28,"v":0.0018},{"t":30,"v":0.0028},{"t":33,"v":0.0015},{"t":36,"v":0.0028},{"t":40,"v":0.0007},{"t":43,"v":0.0022},{"t":47,"v":0.0012},{"t":50,"v":0.0003},{"t":54,"v":0.0018},{"t":57,"v":0.0004},{"t":62,"v":0},{"t":66,"v":0.0009},{"t":70,"v":0.0002},{"t":75,"v":0},{"t":80,"v":0.0004},{"t":85,"v":0.0002},{"t":90,"v":0},{"t":95,"v":0.0005},{"t":100,"v":0.0002},{"t":105,"v":0.0004},{"t":110,"v":0.0001},{"t":115,"v":0.0005},{"t":120,"v":0.0002},{"t":125,"v":0.0004},{"t":128,"v":0.0007},{"t":132,"v":0.0003},{"t":136,"v":0},{"t":140,"v":0.0005},{"t":144,"v":0.0012},{"t":147,"v":0.0004},{"t":150,"v":0.001},{"t":154,"v":0.0002},{"t":158,"v":0.0005},{"t":162,"v":0},{"t":166,"v":0.0003},{"t":170,"v":0.0001},{"t":175,"v":0},{"t":180,"v":0.0004},{"t":184,"v":0.0009},{"t":188,"v":0.0002},{"t":192,"v":0},{"t":196,"v":0.0008},{"t":200,"v":0.0008}],
"e31":[{"t":0,"v":0.0015},{"t":2,"v":0.0007},{"t":4,"v":0.0018},{"t":6,"v":0.0008},{"t":8,"v":0},{"t":10,"v":0.0004},{"t":12,"v":0.0007},{"t":15,"v":0.0003},{"t":18,"v":0.0014},{"t":22,"v":0.0004},{"t":25,"v":0.0006},{"t":28,"v":0.0011},{"t":30,"v":0.0019},{"t":33,"v":0.0005},{"t":36,"v":0.0014},{"t":40,"v":0.0002},{"t":44,"v":0.0005},{"t":48,"v":0.0018},{"t":51,"v":0.0006},{"t":55,"v":0.0002},{"t":60,"v":0.0004},{"t":65,"v":0.0001},{"t":70,"v":0.0002},{"t":75,"v":0.0008},{"t":80,"v":0.0001},{"t":85,"v":0},{"t":90,"v":0.0004},{"t":95,"v":0.0013},{"t":98,"v":0.0002},{"t":103,"v":0.0002},{"t":108,"v":0},{"t":114,"v":0.0001},{"t":120,"v":0.0005},{"t":124,"v":0.0008},{"t":128,"v":0.0002},{"t":132,"v":0.0004},{"t":136,"v":0.0001},{"t":140,"v":0},{"t":145,"v":0.0006},{"t":148,"v":0.0013},{"t":152,"v":0.0004},{"t":157,"v":0.0001},{"t":162,"v":0},{"t":168,"v":0.0003},{"t":174,"v":0},{"t":180,"v":0.0002},{"t":186,"v":0},{"t":190,"v":0.0001},{"t":193,"v":0.0014},{"t":197,"v":0.0002},{"t":200,"v":0.0002}],
"e32":[{"t":0,"v":0.0056},{"t":2,"v":0.0034},{"t":4,"v":0.0044},{"t":6,"v":0.0017},{"t":8,"v":0.0005},{"t":10,"v":0},{"t":12,"v":0.0002},{"t":15,"v":0.0004},{"t":18,"v":0.0006},{"t":20,"v":0.0013},{"t":22,"v":0.0003},{"t":26,"v":0.0002},{"t":30,"v":0.0004},{"t":35,"v":0.0001},{"t":40,"v":0.0002},{"t":45,"v":0},{"t":50,"v":0.0003},{"t":55,"v":0.0001},{"t":59,"v":0.0012},{"t":62,"v":0.0004},{"t":65,"v":0.0002},{"t":70,"v":0.0004},{"t":73,"v":0.0008},{"t":76,"v":0.0015},{"t":80,"v":0.0002},{"t":85,"v":0},{"t":90,"v":0.0003},{"t":95,"v":0.0001},{"t":100,"v":0.0004},{"t":105,"v":0.0002},{"t":110,"v":0.0006},{"t":113,"v":0.0009},{"t":116,"v":0.0001},{"t":120,"v":0},{"t":125,"v":0.0003},{"t":130,"v":0},{"t":135,"v":0.0004},{"t":140,"v":0.0001},{"t":145,"v":0.0006},{"t":148,"v":0.0002},{"t":152,"v":0},{"t":156,"v":0.0003},{"t":160,"v":0.0005},{"t":165,"v":0},{"t":170,"v":0.0002},{"t":172,"v":0.0009},{"t":175,"v":0.0012},{"t":178,"v":0.0004},{"t":182,"v":0.0007},{"t":186,"v":0.0002},{"t":190,"v":0},{"t":193,"v":0.0012},{"t":196,"v":0.0003},{"t":200,"v":0.0003}],
"e33":[{"t":0,"v":0.027},{"t":2,"v":0.021},{"t":3,"v":0.027},{"t":4.5,"v":0.0185},{"t":6,"v":0.0075},{"t":7.5,"v":0.0155},{"t":9,"v":0.0045},{"t":10.5,"v":0.0107},{"t":12,"v":0.0062},{"t":13.5,"v":0.0105},{"t":15.5,"v":0.002},{"t":17,"v":0.0035},{"t":19,"v":0.0012},{"t":21,"v":0.0035},{"t":23,"v":0},{"t":25,"v":0.0022},{"t":27,"v":0.0008},{"t":29,"v":0.0025},{"t":32,"v":0.0006},{"t":34,"v":0.002},{"t":37,"v":0},{"t":40,"v":0.0012},{"t":43,"v":0.0003},{"t":46,"v":0.0038},{"t":49,"v":0.0012},{"t":52,"v":0.0003},{"t":55,"v":0.0019},{"t":58,"v":0.0006},{"t":61,"v":0},{"t":64,"v":0.0008},{"t":67,"v":0.0003},{"t":69,"v":0.0029},{"t":72,"v":0.0007},{"t":75,"v":0.0001},{"t":78,"v":0.0009},{"t":80,"v":0.0017},{"t":83,"v":0.0004},{"t":86,"v":0.0018},{"t":89,"v":0.0003},{"t":92,"v":0.0012},{"t":95,"v":0.002},{"t":98,"v":0.0005},{"t":101,"v":0.0009},{"t":105,"v":0.002},{"t":108,"v":0.0004},{"t":111,"v":0.0011},{"t":114,"v":0.0002},{"t":118,"v":0.0007},{"t":121,"v":0.0001},{"t":124,"v":0.0004},{"t":126,"v":0.001},{"t":129,"v":0.0003},{"t":132,"v":0.0006},{"t":135,"v":0.0001},{"t":138,"v":0.0017},{"t":141,"v":0.0004},{"t":144,"v":0.0011},{"t":147,"v":0.0002},{"t":150,"v":0.0004},{"t":155,"v":0.0001},{"t":160,"v":0.0003},{"t":165,"v":0},{"t":170,"v":0.0002},{"t":175,"v":0.0004},{"t":180,"v":0.0001},{"t":185,"v":0.0003},{"t":190,"v":0},{"t":195,"v":0.0003},{"t":200,"v":0.0003}],
"e34":[{"t":0,"v":0.003},{"t":2,"v":0.0005},{"t":4,"v":0.0015},{"t":6,"v":0.0002},{"t":9,"v":0.0008},{"t":12,"v":0.0016},{"t":14,"v":0.0003},{"t":17,"v":0},{"t":20,"v":0.0004},{"t":24,"v":0},{"t":28,"v":0.0001},{"t":32,"v":0},{"t":36,"v":0.0003},{"t":40,"v":0},{"t":44,"v":0.0002},{"t":48,"v":0.0006},{"t":52,"v":0.0011},{"t":55,"v":0.0002},{"t":58,"v":0.0011},{"t":61,"v":0.0007},{"t":64,"v":0.0002},{"t":68,"v":0.0004},{"t":72,"v":0.0001},{"t":76,"v":0},{"t":80,"v":0.0003},{"t":84,"v":0.0005},{"t":88,"v":0.0002},{"t":92,"v":0.0001},{"t":96,"v":0.0006},{"t":99,"v":0.0015},{"t":102,"v":0.0003},{"t":106,"v":0.0001},{"t":110,"v":0.0004},{"t":114,"v":0},{"t":118,"v":0.0002},{"t":122,"v":0.0001},{"t":125,"v":0.0004},{"t":128,"v":0.0011},{"t":131,"v":0.0002},{"t":135,"v":0},{"t":140,"v":0.0003},{"t":146,"v":0.0016},{"t":149,"v":0.0004},{"t":152,"v":0.0003},{"t":155,"v":0},{"t":160,"v":0.0002},{"t":164,"v":0.0008},{"t":166,"v":0.0018},{"t":169,"v":0.0004},{"t":172,"v":0.0006},{"t":176,"v":0.0001},{"t":180,"v":0.0004},{"t":184,"v":0.0007},{"t":188,"v":0.0002},{"t":192,"v":0},{"t":196,"v":0.0011},{"t":200,"v":0.0011}],
"e41":[{"t":0,"v":0.0018},{"t":2,"v":0.0004},{"t":4,"v":0.0014},{"t":6,"v":0.0003},{"t":8,"v":0},{"t":10,"v":0.0007},{"t":12,"v":0.0002},{"t":15,"v":0.0003},{"t":18,"v":0.0012},{"t":22,"v":0.0002},{"t":25,"v":0.0005},{"t":28,"v":0.0001},{"t":32,"v":0.0008},{"t":36,"v":0.0003},{"t":40,"v":0},{"t":44,"v":0.0004},{"t":48,"v":0.0002},{"t":52,"v":0.0008},{"t":55,"v":0.0001},{"t":60,"v":0.0003},{"t":65,"v":0.0006},{"t":68,"v":0.001},{"t":71,"v":0.0003},{"t":75,"v":0.0001},{"t":80,"v":0.0004},{"t":85,"v":0.0002},{"t":90,"v":0.0008},{"t":93,"v":0.0002},{"t":98,"v":0.0005},{"t":102,"v":0},{"t":106,"v":0.0012},{"t":110,"v":0.0003},{"t":114,"v":0.0009},{"t":117,"v":0.0002},{"t":121,"v":0.0006},{"t":125,"v":0.0005},{"t":128,"v":0.0021},{"t":131,"v":0.0004},{"t":134,"v":0.0011},{"t":137,"v":0.0002},{"t":140,"v":0.0006},{"t":144,"v":0},{"t":148,"v":0.0004},{"t":152,"v":0.0013},{"t":155,"v":0.0003},{"t":158,"v":0},{"t":162,"v":0.0002},{"t":166,"v":0},{"t":170,"v":0.0003},{"t":174,"v":0.0008},{"t":177,"v":0.0002},{"t":180,"v":0.0006},{"t":184,"v":0},{"t":188,"v":0.0004},{"t":192,"v":0},{"t":196,"v":0.0005},{"t":200,"v":0.0005}],
"e42":[{"t":0,"v":0.0034},{"t":2,"v":0.0014},{"t":4,"v":0.0024},{"t":6,"v":0.0008},{"t":8,"v":0.0022},{"t":10,"v":0.0015},{"t":12,"v":0.0006},{"t":15,"v":0.001},{"t":18,"v":0.0002},{"t":22,"v":0.0006},{"t":25,"v":0.0001},{"t":28,"v":0.0004},{"t":32,"v":0},{"t":36,"v":0.0005},{"t":40,"v":0.0002},{"t":44,"v":0.0003},{"t":48,"v":0.0005},{"t":52,"v":0},{"t":56,"v":0.0003},{"t":59,"v":0.0014},{"t":62,"v":0.0002},{"t":67,"v":0.0004},{"t":70,"v":0},{"t":74,"v":0.0003},{"t":78,"v":0.0001},{"t":82,"v":0.0004},{"t":86,"v":0},{"t":90,"v":0.0002},{"t":95,"v":0.0005},{"t":100,"v":0},{"t":104,"v":0.0004},{"t":108,"v":0.0001},{"t":112,"v":0.0003},{"t":116,"v":0},{"t":120,"v":0.0004},{"t":124,"v":0.0008},{"t":127,"v":0.0002},{"t":131,"v":0.0005},{"t":135,"v":0.0008},{"t":138,"v":0.0001},{"t":142,"v":0.0004},{"t":146,"v":0},{"t":150,"v":0.0003},{"t":155,"v":0.0001},{"t":160,"v":0},{"t":165,"v":0.0003},{"t":170,"v":0.0001},{"t":175,"v":0.0002},{"t":180,"v":0.0004},{"t":185,"v":0},{"t":190,"v":0.0002},{"t":192,"v":0.0014},{"t":196,"v":0.0002},{"t":200,"v":0.0002}],
"e43":[{"t":0,"v":0.0004},{"t":3,"v":0.0001},{"t":6,"v":0.0007},{"t":9,"v":0},{"t":12,"v":0.0003},{"t":16,"v":0},{"t":20,"v":0.0004},{"t":24,"v":0.0001},{"t":28,"v":0.0006},{"t":32,"v":0.0002},{"t":36,"v":0.0008},{"t":38,"v":0.0015},{"t":40,"v":0},{"t":44,"v":0.0004},{"t":48,"v":0.0001},{"t":52,"v":0.0005},{"t":56,"v":0.0008},{"t":60,"v":0.0002},{"t":64,"v":0.0007},{"t":68,"v":0.0014},{"t":71,"v":0.0003},{"t":75,"v":0.0006},{"t":79,"v":0.0001},{"t":83,"v":0.0009},{"t":87,"v":0.0002},{"t":91,"v":0.0007},{"t":95,"v":0.0004},{"t":100,"v":0.0013},{"t":103,"v":0.0003},{"t":107,"v":0.0009},{"t":111,"v":0.0004},{"t":115,"v":0.0007},{"t":119,"v":0.0001},{"t":123,"v":0.0005},{"t":127,"v":0.0008},{"t":131,"v":0.0002},{"t":135,"v":0.0003},{"t":139,"v":0.0006},{"t":143,"v":0.0002},{"t":147,"v":0.0016},{"t":150,"v":0.0004},{"t":154,"v":0.0002},{"t":158,"v":0.0005},{"t":162,"v":0.0001},{"t":166,"v":0.0003},{"t":170,"v":0},{"t":174,"v":0.0002},{"t":178,"v":0.0004},{"t":182,"v":0},{"t":186,"v":0.0001},{"t":190,"v":0.0003},{"t":194,"v":0},{"t":197,"v":0.0006},{"t":200,"v":0.0006}],
"e44":[{"t":0,"v":0.0188},{"t":1.5,"v":0.0005},{"t":2.5,"v":0.0186},{"t":4,"v":0.009},{"t":5.5,"v":0.0012},{"t":7,"v":0.007},{"t":8.5,"v":0.005},{"t":10,"v":0.0012},{"t":11,"v":0.0166},{"t":12.5,"v":0.013},{"t":14,"v":0.0078},{"t":15.8,"v":0.0035},{"t":16.6,"v":0.0004},{"t":19,"v":0.0028},{"t":20.5,"v":0.0045},{"t":22.5,"v":0.002},{"t":24,"v":0.0035},{"t":25.6,"v":0.0043},{"t":27,"v":0.0005},{"t":29.7,"v":0.0063},{"t":33,"v":0.0015},{"t":34.6,"v":0},{"t":36,"v":0.0025},{"t":38.6,"v":0.0024},{"t":41,"v":0.0011},{"t":43.5,"v":0.0015},{"t":46,"v":0.0008},{"t":49,"v":0.0012},{"t":51,"v":0.0022},{"t":54,"v":0.0002},{"t":57,"v":0.0004},{"t":60,"v":0.0015},{"t":62,"v":0.0007},{"t":65,"v":0.0004},{"t":67,"v":0.0015},{"t":69,"v":0.0006},{"t":73,"v":0},{"t":77,"v":0.0028},{"t":78.6,"v":0.0008},{"t":81,"v":0.0006},{"t":84,"v":0},{"t":88,"v":0.0004},{"t":91,"v":0.0002},{"t":95,"v":0},{"t":98,"v":0.0006},{"t":102,"v":0.0013},{"t":105,"v":0.0004},{"t":109,"v":0.0005},{"t":112,"v":0.0008},{"t":116,"v":0.0003},{"t":120,"v":0.0014},{"t":122,"v":0.0006},{"t":126,"v":0.0007},{"t":130,"v":0},{"t":135,"v":0.0003},{"t":140,"v":0},{"t":144,"v":0.0008},{"t":148,"v":0},{"t":155,"v":0.0002},{"t":160,"v":0},{"t":166,"v":0.0007},{"t":170,"v":0},{"t":175,"v":0.0001},{"t":181,"v":0.0012},{"t":184,"v":0.0013},{"t":187,"v":0.0003},{"t":190,"v":0.0007},{"t":193.5,"v":0.0005},{"t":196,"v":0},{"t":200,"v":0}]
},
"columns":4,
"spacing":{"row":41,"column":120},
"bounds":"flush",
"resolve":{"scale":{"color":"independent","strokeDash":"independent","shape":"independent"}},
"concat":[
{"width":602,"height":697,"title":{"text":"BTC-USD sell","offset":0,"dx":-15},"encoding":{"x":{"field":"t","type":"quantitative","title":null,"scale":{"domain":[-1,200],"nice":false,"zero":false},"axis":{"values":[0,50,100,150,200]}},"y":{"field":"v","type":"quantitative","title":"ϕ¹ʼ¹(t)","scale":{"domain":[-0.002,0.025],"nice":false,"zero":false},"axis":{"values":[0,0.005,0.01,0.015,0.02,0.025],"format":".3f","labels":true}}},"layer":[
{"data":{"name":"a11"},"mark":"line","encoding":{"color":{"datum":"WH","title":null,"scale":{"domain":["WH","NNNH","EM"],"range":["#008000","#ff0000","#0000ff"]}},"strokeDash":{"datum":"WH","title":null,"scale":{"domain":["WH","NNNH","EM"],"range":[[20,9],[1,0],[20,9]]}}}},
{"data":{"name":"n11"},"mark":{"type":"line","strokeWidth":17,"strokeCap":"round","strokeJoin":"round"},"encoding":{"color":{"datum":"NNNH"},"strokeDash":{"datum":"NNNH"}}},
{"data":{"name":"e11"},"mark":{"type":"line","interpolate":"step-after"},"encoding":{"color":{"datum":"EM"},"strokeDash":{"datum":"EM"}}},
{"data":{"values":[]},"mark":{"type":"point","size":1369,"opacity":1},"encoding":{"shape":{"datum":"WH","title":null,"scale":{"domain":["WH","NNNH","EM"],"range":["M-2,0H2","M-2,0H2M0.3,0A0.3,0.3 0 1,1 -0.3,0A0.3,0.3 0 1,1 0.3,0M0.12,0A0.12,0.12 0 1,1 -0.12,0A0.12,0.12 0 1,1 0.12,0","M-2,0H2"]}}}}]},
{"width":602,"height":697,"title":{"text":"BTC-USD buy","dx":40},"encoding":{"x":{"field":"t","type":"quantitative","title":null,"scale":{"domain":[-1,200],"nice":false,"zero":false},"axis":{"values":[0,50,100,150,200]}},"y":{"field":"v","type":"quantitative","title":"ϕ¹ʼ²(t)","scale":{"domain":[-0.002,0.025],"nice":false,"zero":false},"axis":{"values":[0,0.005,0.01,0.015,0.02,0.025],"format":".3f"}}},"layer":[
{"data":{"name":"a12"},"mark":"line","encoding":{"color":{"datum":"WH","title":null,"scale":{"domain":["WH","NNNH","EM"],"range":["#008000","#ff0000","#0000ff"]}},"strokeDash":{"datum":"WH","title":null,"scale":{"domain":["WH","NNNH","EM"],"range":[[20,9],[1,0],[20,9]]}}}},
{"data":{"name":"n12"},"mark":{"type":"line","strokeWidth":17,"strokeCap":"round","strokeJoin":"round"},"encoding":{"color":{"datum":"NNNH"},"strokeDash":{"datum":"NNNH"}}},
{"data":{"name":"e12"},"mark":{"type":"line","interpolate":"step-after"},"encoding":{"color":{"datum":"EM"},"strokeDash":{"datum":"EM"}}},
{"data":{"values":[]},"mark":{"type":"point","size":1369,"opacity":1},"encoding":{"shape":{"datum":"WH","title":null,"scale":{"domain":["WH","NNNH","EM"],"range":["M-2,0H2","M-2,0H2M0.3,0A0.3,0.3 0 1,1 -0.3,0A0.3,0.3 0 1,1 0.3,0M0.12,0A0.12,0.12 0 1,1 -0.12,0A0.12,0.12 0 1,1 0.12,0","M-2,0H2"]}}}}]},
{"width":602,"height":697,"title":{"text":"ETH-USD sell","dx":40},"encoding":{"x":{"field":"t","type":"quantitative","title":null,"scale":{"domain":[-1,200],"nice":false,"zero":false},"axis":{"values":[0,50,100,150,200]}},"y":{"field":"v","type":"quantitative","title":"ϕ¹ʼ³(t)","scale":{"domain":[-0.002,0.025],"nice":false,"zero":false},"axis":{"values":[0,0.005,0.01,0.015,0.02,0.025],"format":".3f"}}},"layer":[
{"data":{"name":"a13"},"mark":"line","encoding":{"color":{"datum":"WH","title":null,"scale":{"domain":["WH","NNNH","EM"],"range":["#008000","#ff0000","#0000ff"]}},"strokeDash":{"datum":"WH","title":null,"scale":{"domain":["WH","NNNH","EM"],"range":[[20,9],[1,0],[20,9]]}}}},
{"data":{"name":"n13"},"mark":{"type":"line","strokeWidth":17,"strokeCap":"round","strokeJoin":"round"},"encoding":{"color":{"datum":"NNNH"},"strokeDash":{"datum":"NNNH"}}},
{"data":{"name":"e13"},"mark":{"type":"line","interpolate":"step-after"},"encoding":{"color":{"datum":"EM"},"strokeDash":{"datum":"EM"}}},
{"data":{"values":[]},"mark":{"type":"point","size":1369,"opacity":1},"encoding":{"shape":{"datum":"WH","title":null,"scale":{"domain":["WH","NNNH","EM"],"range":["M-2,0H2","M-2,0H2M0.3,0A0.3,0.3 0 1,1 -0.3,0A0.3,0.3 0 1,1 0.3,0M0.12,0A0.12,0.12 0 1,1 -0.12,0A0.12,0.12 0 1,1 0.12,0","M-2,0H2"]}}}}]},
{"width":602,"height":697,"title":{"text":"ETH-USD buy","dx":40},"layer":[
{"encoding":{"x":{"field":"t","type":"quantitative","title":null,"scale":{"domain":[-1,200],"nice":false,"zero":false},"axis":{"values":[0,50,100,150,200]}},"y":{"field":"v","type":"quantitative","title":"ϕ¹ʼ⁴(t)","scale":{"domain":[-0.002,0.025],"nice":false,"zero":false},"axis":{"values":[0,0.005,0.01,0.015,0.02,0.025],"format":".3f"}}},"layer":[
{"data":{"name":"a14"},"mark":"line","encoding":{"color":{"datum":"WH","title":null,"scale":{"domain":["WH","NNNH","EM"],"range":["#008000","#ff0000","#0000ff"]}},"strokeDash":{"datum":"WH","title":null,"scale":{"domain":["WH","NNNH","EM"],"range":[[20,9],[1,0],[20,9]]}}}},
{"data":{"name":"n14"},"mark":{"type":"line","strokeWidth":17,"strokeCap":"round","strokeJoin":"round"},"encoding":{"color":{"datum":"NNNH"},"strokeDash":{"datum":"NNNH"}}},
{"data":{"name":"e14"},"mark":{"type":"line","interpolate":"step-after"},"encoding":{"color":{"datum":"EM"},"strokeDash":{"datum":"EM"}}},
{"data":{"values":[]},"mark":{"type":"point","size":1369,"opacity":1},"encoding":{"shape":{"datum":"WH","title":null,"scale":{"domain":["WH","NNNH","EM"],"range":["M-2,0H2","M-2,0H2M0.3,0A0.3,0.3 0 1,1 -0.3,0A0.3,0.3 0 1,1 0.3,0M0.12,0A0.12,0.12 0 1,1 -0.12,0A0.12,0.12 0 1,1 0.12,0","M-2,0H2"]}}}}]},
{"data":{"values":[{}]},"mark":{"type":"rule","opacity":0},"encoding":{"y":{"datum":0,"type":"quantitative","scale":{"domain":[-0.002,0.025],"nice":false,"zero":false},"axis":{"orient":"right","title":"BTC-USD sell","ticks":false,"labels":false,"grid":false,"titlePadding":42,"titleFontStyle":"normal","titleFontSize":36}}}}],
"resolve":{"scale":{"y":"independent"},"axis":{"y":"independent"}}},
{"width":602,"height":697,"encoding":{"x":{"field":"t","type":"quantitative","title":null,"scale":{"domain":[-1,200],"nice":false,"zero":false},"axis":{"values":[0,50,100,150,200]}},"y":{"field":"v","type":"quantitative","title":"ϕ²ʼ¹(t)","scale":{"domain":[-0.002,0.025],"nice":false,"zero":false},"axis":{"values":[0,0.005,0.01,0.015,0.02,0.025],"format":".3f","labels":true}}},"layer":[
{"data":{"name":"a21"},"mark":"line","encoding":{"color":{"datum":"WH","title":null,"scale":{"domain":["WH","NNNH","EM"],"range":["#008000","#ff0000","#0000ff"]}},"strokeDash":{"datum":"WH","title":null,"scale":{"domain":["WH","NNNH","EM"],"range":[[20,9],[1,0],[20,9]]}}}},
{"data":{"name":"n21"},"mark":{"type":"line","strokeWidth":17,"strokeCap":"round","strokeJoin":"round"},"encoding":{"color":{"datum":"NNNH"},"strokeDash":{"datum":"NNNH"}}},
{"data":{"name":"e21"},"mark":{"type":"line","interpolate":"step-after"},"encoding":{"color":{"datum":"EM"},"strokeDash":{"datum":"EM"}}},
{"data":{"values":[]},"mark":{"type":"point","size":1369,"opacity":1},"encoding":{"shape":{"datum":"WH","title":null,"scale":{"domain":["WH","NNNH","EM"],"range":["M-2,0H2","M-2,0H2M0.3,0A0.3,0.3 0 1,1 -0.3,0A0.3,0.3 0 1,1 0.3,0M0.12,0A0.12,0.12 0 1,1 -0.12,0A0.12,0.12 0 1,1 0.12,0","M-2,0H2"]}}}}]},
{"width":602,"height":697,"encoding":{"x":{"field":"t","type":"quantitative","title":null,"scale":{"domain":[-1,200],"nice":false,"zero":false},"axis":{"values":[0,50,100,150,200]}},"y":{"field":"v","type":"quantitative","title":"ϕ²ʼ²(t)","scale":{"domain":[-0.002,0.025],"nice":false,"zero":false},"axis":{"values":[0,0.005,0.01,0.015,0.02,0.025],"format":".3f"}}},"layer":[
{"data":{"name":"a22"},"mark":"line","encoding":{"color":{"datum":"WH","title":null,"scale":{"domain":["WH","NNNH","EM"],"range":["#008000","#ff0000","#0000ff"]}},"strokeDash":{"datum":"WH","title":null,"scale":{"domain":["WH","NNNH","EM"],"range":[[20,9],[1,0],[20,9]]}}}},
{"data":{"name":"n22"},"mark":{"type":"line","strokeWidth":17,"strokeCap":"round","strokeJoin":"round"},"encoding":{"color":{"datum":"NNNH"},"strokeDash":{"datum":"NNNH"}}},
{"data":{"name":"e22"},"mark":{"type":"line","interpolate":"step-after"},"encoding":{"color":{"datum":"EM"},"strokeDash":{"datum":"EM"}}},
{"data":{"values":[]},"mark":{"type":"point","size":1369,"opacity":1},"encoding":{"shape":{"datum":"WH","title":null,"scale":{"domain":["WH","NNNH","EM"],"range":["M-2,0H2","M-2,0H2M0.3,0A0.3,0.3 0 1,1 -0.3,0A0.3,0.3 0 1,1 0.3,0M0.12,0A0.12,0.12 0 1,1 -0.12,0A0.12,0.12 0 1,1 0.12,0","M-2,0H2"]}}}}]},
{"width":602,"height":697,"encoding":{"x":{"field":"t","type":"quantitative","title":null,"scale":{"domain":[-1,200],"nice":false,"zero":false},"axis":{"values":[0,50,100,150,200]}},"y":{"field":"v","type":"quantitative","title":"ϕ²ʼ³(t)","scale":{"domain":[-0.002,0.025],"nice":false,"zero":false},"axis":{"values":[0,0.005,0.01,0.015,0.02,0.025],"format":".3f"}}},"layer":[
{"data":{"name":"a23"},"mark":"line","encoding":{"color":{"datum":"WH","title":null,"scale":{"domain":["WH","NNNH","EM"],"range":["#008000","#ff0000","#0000ff"]}},"strokeDash":{"datum":"WH","title":null,"scale":{"domain":["WH","NNNH","EM"],"range":[[20,9],[1,0],[20,9]]}}}},
{"data":{"name":"n23"},"mark":{"type":"line","strokeWidth":17,"strokeCap":"round","strokeJoin":"round"},"encoding":{"color":{"datum":"NNNH"},"strokeDash":{"datum":"NNNH"}}},
{"data":{"name":"e23"},"mark":{"type":"line","interpolate":"step-after"},"encoding":{"color":{"datum":"EM"},"strokeDash":{"datum":"EM"}}},
{"data":{"values":[]},"mark":{"type":"point","size":1369,"opacity":1},"encoding":{"shape":{"datum":"WH","title":null,"scale":{"domain":["WH","NNNH","EM"],"range":["M-2,0H2","M-2,0H2M0.3,0A0.3,0.3 0 1,1 -0.3,0A0.3,0.3 0 1,1 0.3,0M0.12,0A0.12,0.12 0 1,1 -0.12,0A0.12,0.12 0 1,1 0.12,0","M-2,0H2"]}}}}]},
{"width":602,"height":697,"layer":[
{"encoding":{"x":{"field":"t","type":"quantitative","title":null,"scale":{"domain":[-1,200],"nice":false,"zero":false},"axis":{"values":[0,50,100,150,200]}},"y":{"field":"v","type":"quantitative","title":"ϕ²ʼ⁴(t)","scale":{"domain":[-0.002,0.025],"nice":false,"zero":false},"axis":{"values":[0,0.005,0.01,0.015,0.02,0.025],"format":".3f"}}},"layer":[
{"data":{"name":"a24"},"mark":"line","encoding":{"color":{"datum":"WH","title":null,"scale":{"domain":["WH","NNNH","EM"],"range":["#008000","#ff0000","#0000ff"]}},"strokeDash":{"datum":"WH","title":null,"scale":{"domain":["WH","NNNH","EM"],"range":[[20,9],[1,0],[20,9]]}}}},
{"data":{"name":"n24"},"mark":{"type":"line","strokeWidth":17,"strokeCap":"round","strokeJoin":"round"},"encoding":{"color":{"datum":"NNNH"},"strokeDash":{"datum":"NNNH"}}},
{"data":{"name":"e24"},"mark":{"type":"line","interpolate":"step-after"},"encoding":{"color":{"datum":"EM"},"strokeDash":{"datum":"EM"}}},
{"data":{"values":[]},"mark":{"type":"point","size":1369,"opacity":1},"encoding":{"shape":{"datum":"WH","title":null,"scale":{"domain":["WH","NNNH","EM"],"range":["M-2,0H2","M-2,0H2M0.3,0A0.3,0.3 0 1,1 -0.3,0A0.3,0.3 0 1,1 0.3,0M0.12,0A0.12,0.12 0 1,1 -0.12,0A0.12,0.12 0 1,1 0.12,0","M-2,0H2"]}}}}]},
{"data":{"values":[{}]},"mark":{"type":"rule","opacity":0},"encoding":{"y":{"datum":0,"type":"quantitative","scale":{"domain":[-0.002,0.025],"nice":false,"zero":false},"axis":{"orient":"right","title":"BTC-USD buy","ticks":false,"labels":false,"grid":false,"titlePadding":42,"titleFontStyle":"normal","titleFontSize":36}}}}],
"resolve":{"scale":{"y":"independent"},"axis":{"y":"independent"}}},
{"width":602,"height":697,"encoding":{"x":{"field":"t","type":"quantitative","title":null,"scale":{"domain":[-1,200],"nice":false,"zero":false},"axis":{"values":[0,50,100,150,200]}},"y":{"field":"v","type":"quantitative","title":"ϕ³ʼ¹(t)","scale":{"domain":[-0.002,0.025],"nice":false,"zero":false},"axis":{"values":[0,0.005,0.01,0.015,0.02,0.025],"format":".3f","labels":true}}},"layer":[
{"data":{"name":"a31"},"mark":"line","encoding":{"color":{"datum":"WH","title":null,"scale":{"domain":["WH","NNNH","EM"],"range":["#008000","#ff0000","#0000ff"]}},"strokeDash":{"datum":"WH","title":null,"scale":{"domain":["WH","NNNH","EM"],"range":[[20,9],[1,0],[20,9]]}}}},
{"data":{"name":"n31"},"mark":{"type":"line","strokeWidth":17,"strokeCap":"round","strokeJoin":"round"},"encoding":{"color":{"datum":"NNNH"},"strokeDash":{"datum":"NNNH"}}},
{"data":{"name":"e31"},"mark":{"type":"line","interpolate":"step-after"},"encoding":{"color":{"datum":"EM"},"strokeDash":{"datum":"EM"}}},
{"data":{"values":[]},"mark":{"type":"point","size":1369,"opacity":1},"encoding":{"shape":{"datum":"WH","title":null,"scale":{"domain":["WH","NNNH","EM"],"range":["M-2,0H2","M-2,0H2M0.3,0A0.3,0.3 0 1,1 -0.3,0A0.3,0.3 0 1,1 0.3,0M0.12,0A0.12,0.12 0 1,1 -0.12,0A0.12,0.12 0 1,1 0.12,0","M-2,0H2"]}}}}]},
{"width":602,"height":697,"encoding":{"x":{"field":"t","type":"quantitative","title":null,"scale":{"domain":[-1,200],"nice":false,"zero":false},"axis":{"values":[0,50,100,150,200]}},"y":{"field":"v","type":"quantitative","title":"ϕ³ʼ²(t)","scale":{"domain":[-0.002,0.025],"nice":false,"zero":false},"axis":{"values":[0,0.005,0.01,0.015,0.02,0.025],"format":".3f"}}},"layer":[
{"data":{"name":"a32"},"mark":"line","encoding":{"color":{"datum":"WH","title":null,"scale":{"domain":["WH","NNNH","EM"],"range":["#008000","#ff0000","#0000ff"]}},"strokeDash":{"datum":"WH","title":null,"scale":{"domain":["WH","NNNH","EM"],"range":[[20,9],[1,0],[20,9]]}}}},
{"data":{"name":"n32"},"mark":{"type":"line","strokeWidth":17,"strokeCap":"round","strokeJoin":"round"},"encoding":{"color":{"datum":"NNNH"},"strokeDash":{"datum":"NNNH"}}},
{"data":{"name":"e32"},"mark":{"type":"line","interpolate":"step-after"},"encoding":{"color":{"datum":"EM"},"strokeDash":{"datum":"EM"}}},
{"data":{"values":[]},"mark":{"type":"point","size":1369,"opacity":1},"encoding":{"shape":{"datum":"WH","title":null,"scale":{"domain":["WH","NNNH","EM"],"range":["M-2,0H2","M-2,0H2M0.3,0A0.3,0.3 0 1,1 -0.3,0A0.3,0.3 0 1,1 0.3,0M0.12,0A0.12,0.12 0 1,1 -0.12,0A0.12,0.12 0 1,1 0.12,0","M-2,0H2"]}}}}]},
{"width":602,"height":697,"encoding":{"x":{"field":"t","type":"quantitative","title":null,"scale":{"domain":[-1,200],"nice":false,"zero":false},"axis":{"values":[0,50,100,150,200]}},"y":{"field":"v","type":"quantitative","title":"ϕ³ʼ³(t)","scale":{"domain":[-0.002,0.025],"nice":false,"zero":false},"axis":{"values":[0,0.005,0.01,0.015,0.02,0.025],"format":".3f"}}},"layer":[
{"data":{"name":"a33"},"mark":"line","encoding":{"color":{"datum":"WH","title":null,"scale":{"domain":["WH","NNNH","EM"],"range":["#008000","#ff0000","#0000ff"]}},"strokeDash":{"datum":"WH","title":null,"scale":{"domain":["WH","NNNH","EM"],"range":[[20,9],[1,0],[20,9]]}}}},
{"data":{"name":"n33"},"mark":{"type":"line","strokeWidth":17,"strokeCap":"round","strokeJoin":"round"},"encoding":{"color":{"datum":"NNNH"},"strokeDash":{"datum":"NNNH"}}},
{"data":{"name":"e33"},"mark":{"type":"line","interpolate":"step-after"},"encoding":{"color":{"datum":"EM"},"strokeDash":{"datum":"EM"}}},
{"data":{"values":[]},"mark":{"type":"point","size":1369,"opacity":1},"encoding":{"shape":{"datum":"WH","title":null,"scale":{"domain":["WH","NNNH","EM"],"range":["M-2,0H2","M-2,0H2M0.3,0A0.3,0.3 0 1,1 -0.3,0A0.3,0.3 0 1,1 0.3,0M0.12,0A0.12,0.12 0 1,1 -0.12,0A0.12,0.12 0 1,1 0.12,0","M-2,0H2"]}}}}]},
{"width":602,"height":697,"layer":[
{"encoding":{"x":{"field":"t","type":"quantitative","title":null,"scale":{"domain":[-1,200],"nice":false,"zero":false},"axis":{"values":[0,50,100,150,200]}},"y":{"field":"v","type":"quantitative","title":"ϕ³ʼ⁴(t)","scale":{"domain":[-0.002,0.025],"nice":false,"zero":false},"axis":{"values":[0,0.005,0.01,0.015,0.02,0.025],"format":".3f"}}},"layer":[
{"data":{"name":"a34"},"mark":"line","encoding":{"color":{"datum":"WH","title":null,"scale":{"domain":["WH","NNNH","EM"],"range":["#008000","#ff0000","#0000ff"]}},"strokeDash":{"datum":"WH","title":null,"scale":{"domain":["WH","NNNH","EM"],"range":[[20,9],[1,0],[20,9]]}}}},
{"data":{"name":"n34"},"mark":{"type":"line","strokeWidth":17,"strokeCap":"round","strokeJoin":"round"},"encoding":{"color":{"datum":"NNNH"},"strokeDash":{"datum":"NNNH"}}},
{"data":{"name":"e34"},"mark":{"type":"line","interpolate":"step-after"},"encoding":{"color":{"datum":"EM"},"strokeDash":{"datum":"EM"}}},
{"data":{"values":[]},"mark":{"type":"point","size":1369,"opacity":1},"encoding":{"shape":{"datum":"WH","title":null,"scale":{"domain":["WH","NNNH","EM"],"range":["M-2,0H2","M-2,0H2M0.3,0A0.3,0.3 0 1,1 -0.3,0A0.3,0.3 0 1,1 0.3,0M0.12,0A0.12,0.12 0 1,1 -0.12,0A0.12,0.12 0 1,1 0.12,0","M-2,0H2"]}}}}]},
{"data":{"values":[{}]},"mark":{"type":"rule","opacity":0},"encoding":{"y":{"datum":0,"type":"quantitative","scale":{"domain":[-0.002,0.025],"nice":false,"zero":false},"axis":{"orient":"right","title":"ETH-USD sell","ticks":false,"labels":false,"grid":false,"titlePadding":42,"titleFontStyle":"normal","titleFontSize":36}}}}],
"resolve":{"scale":{"y":"independent"},"axis":{"y":"independent"}}},
{"width":602,"height":697,"encoding":{"x":{"field":"t","type":"quantitative","title":null,"scale":{"domain":[-1,200],"nice":false,"zero":false},"axis":{"values":[0,50,100,150,200],"labels":true}},"y":{"field":"v","type":"quantitative","title":"ϕ⁴ʼ¹(t)","scale":{"domain":[-0.002,0.025],"nice":false,"zero":false},"axis":{"values":[0,0.005,0.01,0.015,0.02,0.025],"format":".3f","labels":true}}},"layer":[
{"data":{"name":"a41"},"mark":"line","encoding":{"color":{"datum":"WH","title":null,"scale":{"domain":["WH","NNNH","EM"],"range":["#008000","#ff0000","#0000ff"]}},"strokeDash":{"datum":"WH","title":null,"scale":{"domain":["WH","NNNH","EM"],"range":[[20,9],[1,0],[20,9]]}}}},
{"data":{"name":"n41"},"mark":{"type":"line","strokeWidth":17,"strokeCap":"round","strokeJoin":"round"},"encoding":{"color":{"datum":"NNNH"},"strokeDash":{"datum":"NNNH"}}},
{"data":{"name":"e41"},"mark":{"type":"line","interpolate":"step-after"},"encoding":{"color":{"datum":"EM"},"strokeDash":{"datum":"EM"}}},
{"data":{"values":[]},"mark":{"type":"point","size":1369,"opacity":1},"encoding":{"shape":{"datum":"WH","title":null,"scale":{"domain":["WH","NNNH","EM"],"range":["M-2,0H2","M-2,0H2M0.3,0A0.3,0.3 0 1,1 -0.3,0A0.3,0.3 0 1,1 0.3,0M0.12,0A0.12,0.12 0 1,1 -0.12,0A0.12,0.12 0 1,1 0.12,0","M-2,0H2"]}}}}]},
{"width":602,"height":697,"encoding":{"x":{"field":"t","type":"quantitative","title":null,"scale":{"domain":[-1,200],"nice":false,"zero":false},"axis":{"values":[0,50,100,150,200],"labels":true}},"y":{"field":"v","type":"quantitative","title":"ϕ⁴ʼ²(t)","scale":{"domain":[-0.002,0.025],"nice":false,"zero":false},"axis":{"values":[0,0.005,0.01,0.015,0.02,0.025],"format":".3f"}}},"layer":[
{"data":{"name":"a42"},"mark":"line","encoding":{"color":{"datum":"WH","title":null,"scale":{"domain":["WH","NNNH","EM"],"range":["#008000","#ff0000","#0000ff"]}},"strokeDash":{"datum":"WH","title":null,"scale":{"domain":["WH","NNNH","EM"],"range":[[20,9],[1,0],[20,9]]}}}},
{"data":{"name":"n42"},"mark":{"type":"line","strokeWidth":17,"strokeCap":"round","strokeJoin":"round"},"encoding":{"color":{"datum":"NNNH"},"strokeDash":{"datum":"NNNH"}}},
{"data":{"name":"e42"},"mark":{"type":"line","interpolate":"step-after"},"encoding":{"color":{"datum":"EM"},"strokeDash":{"datum":"EM"}}},
{"data":{"values":[]},"mark":{"type":"point","size":1369,"opacity":1},"encoding":{"shape":{"datum":"WH","title":null,"scale":{"domain":["WH","NNNH","EM"],"range":["M-2,0H2","M-2,0H2M0.3,0A0.3,0.3 0 1,1 -0.3,0A0.3,0.3 0 1,1 0.3,0M0.12,0A0.12,0.12 0 1,1 -0.12,0A0.12,0.12 0 1,1 0.12,0","M-2,0H2"]}}}}]},
{"width":602,"height":697,"encoding":{"x":{"field":"t","type":"quantitative","title":null,"scale":{"domain":[-1,200],"nice":false,"zero":false},"axis":{"values":[0,50,100,150,200],"labels":true}},"y":{"field":"v","type":"quantitative","title":"ϕ⁴ʼ³(t)","scale":{"domain":[-0.002,0.025],"nice":false,"zero":false},"axis":{"values":[0,0.005,0.01,0.015,0.02,0.025],"format":".3f"}}},"layer":[
{"data":{"name":"a43"},"mark":"line","encoding":{"color":{"datum":"WH","title":null,"scale":{"domain":["WH","NNNH","EM"],"range":["#008000","#ff0000","#0000ff"]}},"strokeDash":{"datum":"WH","title":null,"scale":{"domain":["WH","NNNH","EM"],"range":[[20,9],[1,0],[20,9]]}}}},
{"data":{"name":"n43"},"mark":{"type":"line","strokeWidth":17,"strokeCap":"round","strokeJoin":"round"},"encoding":{"color":{"datum":"NNNH"},"strokeDash":{"datum":"NNNH"}}},
{"data":{"name":"e43"},"mark":{"type":"line","interpolate":"step-after"},"encoding":{"color":{"datum":"EM"},"strokeDash":{"datum":"EM"}}},
{"data":{"values":[]},"mark":{"type":"point","size":1369,"opacity":1},"encoding":{"shape":{"datum":"WH","title":null,"scale":{"domain":["WH","NNNH","EM"],"range":["M-2,0H2","M-2,0H2M0.3,0A0.3,0.3 0 1,1 -0.3,0A0.3,0.3 0 1,1 0.3,0M0.12,0A0.12,0.12 0 1,1 -0.12,0A0.12,0.12 0 1,1 0.12,0","M-2,0H2"]}}}}]},
{"width":602,"height":697,"layer":[
{"encoding":{"x":{"field":"t","type":"quantitative","title":null,"scale":{"domain":[-1,200],"nice":false,"zero":false},"axis":{"values":[0,50,100,150,200],"labels":true}},"y":{"field":"v","type":"quantitative","title":"ϕ⁴ʼ⁴(t)","scale":{"domain":[-0.002,0.025],"nice":false,"zero":false},"axis":{"values":[0,0.005,0.01,0.015,0.02,0.025],"format":".3f"}}},"layer":[
{"data":{"name":"a44"},"mark":"line","encoding":{"color":{"datum":"WH","title":null,"scale":{"domain":["WH","NNNH","EM"],"range":["#008000","#ff0000","#0000ff"]}},"strokeDash":{"datum":"WH","title":null,"scale":{"domain":["WH","NNNH","EM"],"range":[[20,9],[1,0],[20,9]]}}}},
{"data":{"name":"n44"},"mark":{"type":"line","strokeWidth":17,"strokeCap":"round","strokeJoin":"round"},"encoding":{"color":{"datum":"NNNH"},"strokeDash":{"datum":"NNNH"}}},
{"data":{"name":"e44"},"mark":{"type":"line","interpolate":"step-after"},"encoding":{"color":{"datum":"EM"},"strokeDash":{"datum":"EM"}}},
{"data":{"values":[]},"mark":{"type":"point","size":1369,"opacity":1},"encoding":{"shape":{"datum":"WH","title":null,"scale":{"domain":["WH","NNNH","EM"],"range":["M-2,0H2","M-2,0H2M0.3,0A0.3,0.3 0 1,1 -0.3,0A0.3,0.3 0 1,1 0.3,0M0.12,0A0.12,0.12 0 1,1 -0.12,0A0.12,0.12 0 1,1 0.12,0","M-2,0H2"]}}}}]},
{"data":{"values":[{}]},"mark":{"type":"rule","opacity":0},"encoding":{"y":{"datum":0,"type":"quantitative","scale":{"domain":[-0.002,0.025],"nice":false,"zero":false},"axis":{"orient":"right","title":"ETH-USD buy","ticks":false,"labels":false,"grid":false,"titlePadding":42,"titleFontStyle":"normal","titleFontSize":36}}}}],
"resolve":{"scale":{"y":"independent"},"axis":{"y":"independent"}}}
],
"config":{
"font":"DejaVu Sans",
"view":{"stroke":"black","strokeWidth":2.2},
"line":{"clip":true,"strokeWidth":5.5},
"axis":{"domain":false,"grid":true,"gridColor":"#b0b0b0","gridWidth":2.2,"ticks":true,"tickColor":"black","tickWidth":2.2,"tickSize":10,"labelFont":"DejaVu Sans","labelFontSize":32,"labelColor":"black","labelFlush":false,"labelOverlap":false,"titleFont":"DejaVu Sans","titleFontSize":42,"titleFontWeight":"normal","titleFontStyle":"italic","titleColor":"black"},
"axisX":{"labels":false,"labelPadding":6},
"axisY":{"labels":false,"labelPadding":12,"titlePadding":16},
"legend":{"orient":"top-right","offset":15,"fillColor":"rgba(255,255,255,0.8)","strokeColor":"#cccccc","strokeWidth":2,"cornerRadius":8,"padding":13,"symbolType":"M-2,0H2","symbolSize":1369,"symbolOffset":19,"symbolStrokeWidth":5.5,"labelFont":"DejaVu Sans","labelFontSize":34,"labelColor":"black","labelOffset":44,"rowPadding":13},
"title":{"font":"DejaVu Sans","fontSize":36,"fontWeight":"normal","color":"black","offset":16}
}
}
